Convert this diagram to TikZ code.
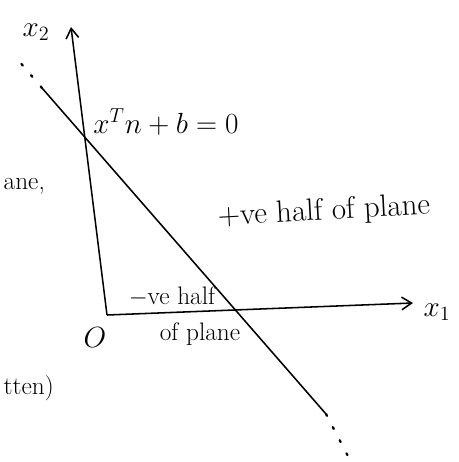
\documentclass[tikz,border=0pt]{standalone}
\usepackage{amsmath,amssymb}
\usepackage{tikz}
\usetikzlibrary{arrows.meta,positioning,calc}

\begin{document}
\begin{tikzpicture}[
  x=0.025cm, y=-0.025cm,
  axis/.style={-{Straight Barb[length=7pt,width=9pt]}, line width=1.1pt},
  boundary/.style={line width=1.1pt},
  dotline/.style={line width=1.6pt, dash pattern=on 1.5pt off 9pt, line cap=round},
  hand/.style={font=\fontsize{20}{24}\selectfont, inner sep=1pt},
  small/.style={hand, font=\fontsize{18}{22}\selectfont}
]
\useasboundingbox (0,0) rectangle (459,462);

% axes
\coordinate (origin) at (107,315);
\coordinate (ytop) at (71,27);
\coordinate (xend) at (413,303);
\draw[axis] (origin) -- (ytop);
\draw[axis] (origin) -- (xend);
\node[hand] (xtwo) at (36,32) {$x_2$};
\node[hand] (xone) at (437,312) {$x_1$};
\node[hand] (orig) at (95,338) {$O$};

% hyperplane
\coordinate (lstart) at (42,88);
\coordinate (lend) at (326,414);
\coordinate (dtop) at (18,60);
\coordinate (dbot) at (350,460);
\draw[boundary] (lstart) -- (lend);
\draw[dotline] (lstart) -- (dtop);
\draw[dotline] (lend) -- (dbot);

% labels
\node[hand] (eqn) at (166,122) {$x^{T}n+b=0$};
\node[hand, font=\fontsize{22}{26}\selectfont, rotate=3] (pos) at (324,212) {+ve half of plane};
\node[small] (neg) at (172,297) {$-$ve half};
\node[small] (negb) at (200,334) {of plane};

% cut text at the page edge
\node[small, anchor=west] (cuta) at (2,186) {ane,};
\node[small, anchor=west] (cutb) at (2,388) {tten)};
\end{tikzpicture}
\end{document}
